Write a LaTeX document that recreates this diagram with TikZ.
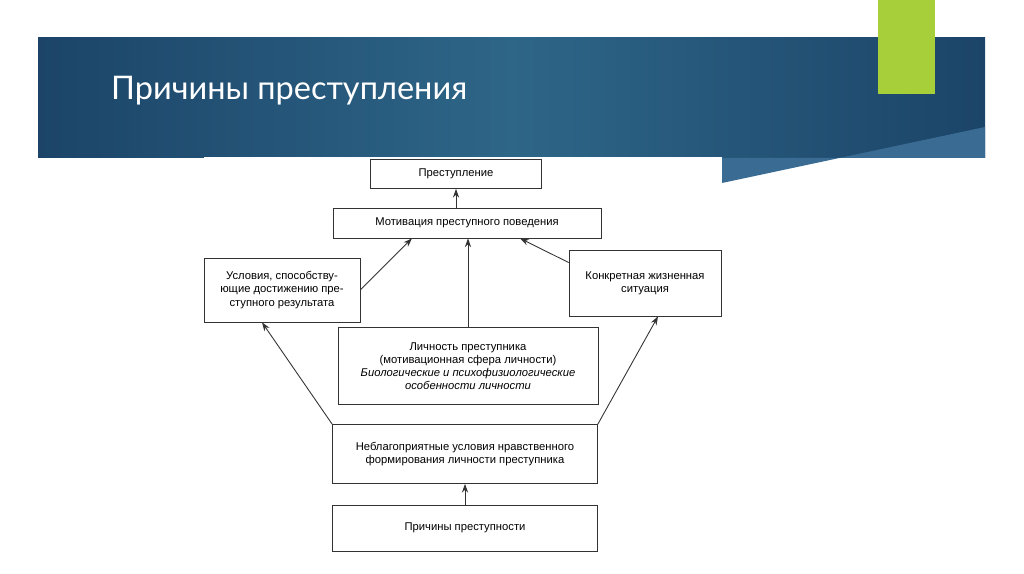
\documentclass[tikz,border=0pt]{standalone}
\usepackage{fontspec}
\setmainfont{Liberation Sans}
\newfontfamily\titlefont{Lato}
\usetikzlibrary{calc,arrows.meta}
\definecolor{banner}{HTML}{1B4468}
\definecolor{bannermid}{HTML}{2E6688}
\definecolor{bannerlight}{HTML}{3A6C93}
\definecolor{accent}{HTML}{A6CF3A}
\tikzset{
  box/.style={draw=black!80, fill=white, minimum height=#1, font=\fontsize{6.4}{7.5}\selectfont, align=center, inner sep=1pt},
  link/.style={-{Stealth[length=5pt,width=3.5pt]}, black!80, line width=0.5pt}
}
\begin{document}
\begin{tikzpicture}[x=0.02cm, y=-0.02cm]
  \useasboundingbox (0,0) rectangle (1024,574);
  \fill[white] (0,0) rectangle (1024,574);
  % banner
  \shade[left color=banner, right color=banner, middle color=bannermid] (38,38) rectangle (985,158);
  \fill[bannerlight] (722,183) -- (985,127) -- (985,158) -- (722,158) -- cycle;
  \fill[accent] (878,0) rectangle (935,94);
  \node[anchor=west, text=white, font=\titlefont\fontsize{18.5}{22}\selectfont] (title) at (105,91) {Причины преступления};
  \fill[white] (204,157) rectangle (722,560);

  % boxes
  \node[box=29*0.02cm, minimum width=171*0.02cm] (crime) at (456,174) {Преступление};
  \node[box=30*0.02cm, minimum width=268*0.02cm] (motiv) at (467,223) {Мотивация преступного поведения};
  \node[box=64*0.02cm, minimum width=156*0.02cm] (usl) at (282,290) {Условия, способству-\\ющие достижению пре-\\ступного результата};
  \node[box=66*0.02cm, minimum width=152*0.02cm] (konk) at (645,283) {Конкретная жизненная\\ситуация};
  \node[box=77*0.02cm, minimum width=260*0.02cm] (lich) at (468,366) {Личность преступника\\(мотивационная сфера личности)\\\textit{Биологические и психофизиологические}\\\textit{особенности личности}};
  \node[box=59*0.02cm, minimum width=265*0.02cm] (neb) at (465,454) {Неблагоприятные условия нравственного\\формирования личности преступника};
  \node[box=46*0.02cm, minimum width=265*0.02cm] (prich) at (465,528) {Причины преступности};

  % connectors
  \draw[link] (motiv.north -| crime.south) -- (crime.south);
  \draw[link] (lich.north) -- (lich.north |- motiv.south);
  \draw[link] (usl.east) -- ($(motiv.south)+(-55,0)$);
  \draw[link] (konk.165) -- ($(motiv.south)+(53,0)$);
  \draw[link] (neb.north west) -- ($(usl.south)+(-20,0)$);
  \draw[link] (neb.north east) -- ($(konk.south)+(13,0)$);
  \draw[link] (prich.north) -- (neb.south);
\end{tikzpicture}
\end{document}
